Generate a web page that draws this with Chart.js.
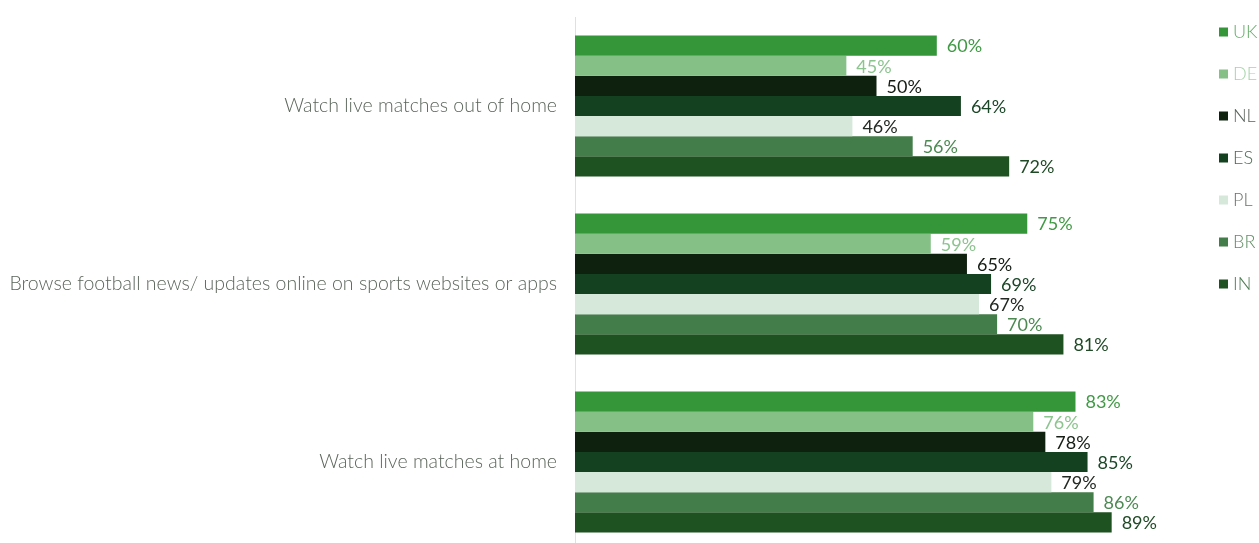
<!DOCTYPE html>
<html>
<head>
<meta charset="utf-8">
<script src="https://cdn.jsdelivr.net/npm/chart.js@4"></script>
<style>
  html, body { margin: 0; padding: 0; background: #fff; overflow: hidden; }
  #wrap { width: 1259px; height: 543px; overflow: hidden; }
</style>
</head>
<body>
<div id="wrap"><canvas id="myBarChart" width="1259" height="551"></canvas></div>
<script>
var categories = [
  "Watch live matches out of home",
  "Browse football news/ updates online on sports websites or apps",
  "Watch live matches at home"
];
var countries = ["UK", "DE", "NL", "ES", "PL", "BR", "IN"];

var ukValues = [60, 75, 83];
var deValues = [45, 59, 76];
var nlValues = [50, 65, 78];
var esValues = [64, 69, 85];
var plValues = [46, 67, 79];
var brValues = [56, 70, 86];
var inValues = [72, 81, 89];

var barColors = ["#349539", "#85c087", "#0e200e", "#144220", "#d6e8da", "#437d49", "#1f5221"];
var labelColors = ["#3f9a43", "#8cc48e", "#141c14", "#1b4728", "#222822", "#4c8a52", "#1f4a25"];
var legendTextColors = ["#62ad65", "#a6d3a8", "#5a625a", "#4f6a55", "#6a726a", "#5f8d63", "#4f7d55"];

var allValues = [ukValues, deValues, nlValues, esValues, plValues, brValues, inValues];

var ctx = document.getElementById("myBarChart").getContext("2d");

var datasets = countries.map(function (name, i) {
  return {
    label: name,
    data: allValues[i],
    backgroundColor: barColors[i],
    borderWidth: 0,
    categoryPercentage: 0.792,
    barPercentage: 1.0,
  };
});

// value labels at the end of each bar
var valueLabels = {
  id: "valueLabels",
  afterDatasetsDraw: function (chart) {
    var c = chart.ctx;
    c.save();
    c.font = "18px Lato";
    c.textAlign = "left";
    c.textBaseline = "middle";
    chart.data.datasets.forEach(function (ds, i) {
      var meta = chart.getDatasetMeta(i);
      meta.data.forEach(function (bar, j) {
        c.fillStyle = labelColors[i];
        c.fillText(ds.data[j] + "%", bar.x + 10, bar.y + 1);
      });
    });
    c.restore();
  },
};

// legend on the right, one row per country
var sideLegend = {
  id: "sideLegend",
  afterDraw: function (chart) {
    var c = chart.ctx;
    c.save();
    c.font = "300 18px Lato";
    c.textBaseline = "middle";
    c.textAlign = "left";
    chart.data.datasets.forEach(function (ds, i) {
      var y = 32 + i * 42;
      c.fillStyle = ds.backgroundColor;
      c.fillRect(1219, y - 4.5, 9, 9);
      c.fillStyle = legendTextColors[i];
      c.fillText(ds.label, 1233, y);
    });
    c.restore();
  },
};

var myBarChart = new Chart(ctx, {
  type: "bar",
  data: { labels: categories, datasets: datasets },
  options: {
    indexAxis: "y",
    responsive: false,
    animation: false,
    devicePixelRatio: 1,
    layout: { padding: { top: 17, right: 81, bottom: 0, left: 0 } },
    scales: {
      x: {
        display: false,
        min: 0,
        max: 100,
      },
      y: {
        grid: { display: false, drawTicks: false },
        border: { display: true, color: "#d3e9d3", width: 1 },
        ticks: {
          padding: 18,
          color: "#5b655b",
          font: { family: "Lato", size: 19.5, weight: "300" },
        },
        afterFit: function (scale) {
          scale.width = 575;
          scale.paddingTop = 0;
          scale.paddingBottom = 0;
        },
      },
    },
    plugins: {
      legend: { display: false },
      tooltip: { enabled: false },
      title: { display: false },
    },
  },
  plugins: [valueLabels, sideLegend],
});
</script>
</body>
</html>
